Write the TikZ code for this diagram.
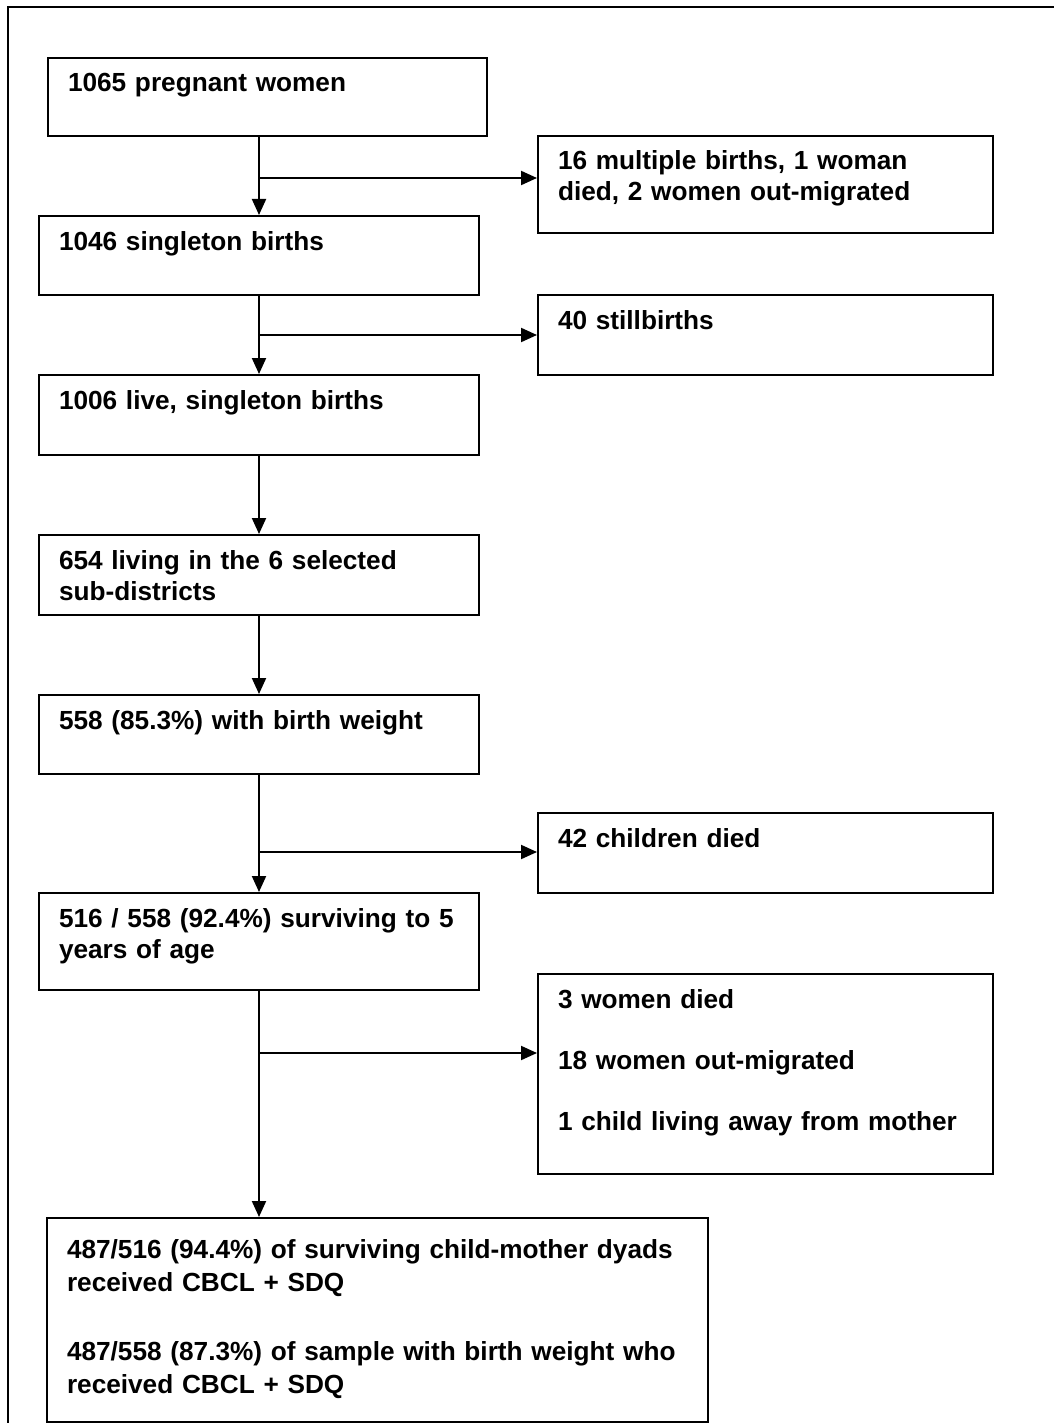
\documentclass[tikz,border=0pt]{standalone}
\usepackage{fontspec}
\setmainfont{Liberation Sans}
\usetikzlibrary{arrows.meta}

\tikzset{
  stage/.style 2 args={draw, line width=1pt, anchor=north west, align=left,
    inner xsep=10pt, inner ysep=0pt, text height=17pt,
    text width=#1, text depth=#2},
}

\begin{document}
\begin{tikzpicture}[x=0.5pt, y=-0.5pt, >={Triangle[length=8pt,width=7pt]},
    font=\fontsize{13.1pt}{15.5pt}\selectfont\bfseries]
    \useasboundingbox (0,0) rectangle (1054,1423);

    % frame
    \draw[line width=1pt] (8,1423) -- (8,7) -- (1054,7);

    %% main column
    \node[stage={199.5pt}{22pt}] (b1) at (47,57) {1065 pregnant women};
    \node[stage={200pt}{22.5pt}] (b2) at (38,215) {1046 singleton births};
    \node[stage={200pt}{23pt}] (b3) at (38,374) {1006 live, singleton births};
    \node[stage={200pt}{23pt}] (b4) at (38,534) {654 living in the 6 selected\\ sub-districts};
    \node[stage={200pt}{22.5pt}] (b5) at (38,694) {558 (85.3\%) with birth weight};
    \node[stage={200pt}{31.5pt}] (b6) at (38,892) {516 / 558 (92.4\%) surviving to 5\\ years of age};
    \node[stage={310.5pt}{82pt}, text height=20pt,
          font=\fontsize{13.1pt}{16.5pt}\selectfont\bfseries] (b7) at (46,1217)
      {487/516 (94.4\%) of surviving child-mother dyads\\ received CBCL + SDQ\\[18pt]
       487/558 (87.3\%) of sample with birth weight who\\ received CBCL + SDQ};

    %% exclusions
    \node[stage={207.5pt}{31.5pt}] (sA) at (537,135) {16 multiple births, 1 woman\\ died, 2 women out-migrated};
    \node[stage={207.5pt}{23pt}] (sB) at (537,294) {40 stillbirths};
    \node[stage={207.5pt}{23pt}] (sC) at (537,812) {42 children died};
    \node[stage={207.5pt}{83pt}] (sD) at (537,973)
      {3 women died\\[15pt] 18 women out-migrated\\[15pt] 1 child living away from mother};

    % junctions on the spine
    \coordinate (jA) at (259,178);
    \coordinate (jB) at (259,335);
    \coordinate (jC) at (259,852);
    \coordinate (jD) at (259,1053);

    \draw[line width=1pt, ->] (b1.south -| jA) -- (b2.north -| jA);
    \draw[line width=1pt, ->] (b2.south -| jA) -- (b3.north -| jA);
    \draw[line width=1pt, ->] (b3.south -| jA) -- (b4.north -| jA);
    \draw[line width=1pt, ->] (b4.south -| jA) -- (b5.north -| jA);
    \draw[line width=1pt, ->] (b5.south -| jA) -- (b6.north -| jA);
    \draw[line width=1pt, ->] (b6.south -| jA) -- (b7.north -| jA);

    \draw[line width=1pt, ->] (jA) -- (jA -| sA.west);
    \draw[line width=1pt, ->] (jB) -- (jB -| sB.west);
    \draw[line width=1pt, ->] (jC) -- (jC -| sC.west);
    \draw[line width=1pt, ->] (jD) -- (jD -| sD.west);

\end{tikzpicture}
\end{document}
